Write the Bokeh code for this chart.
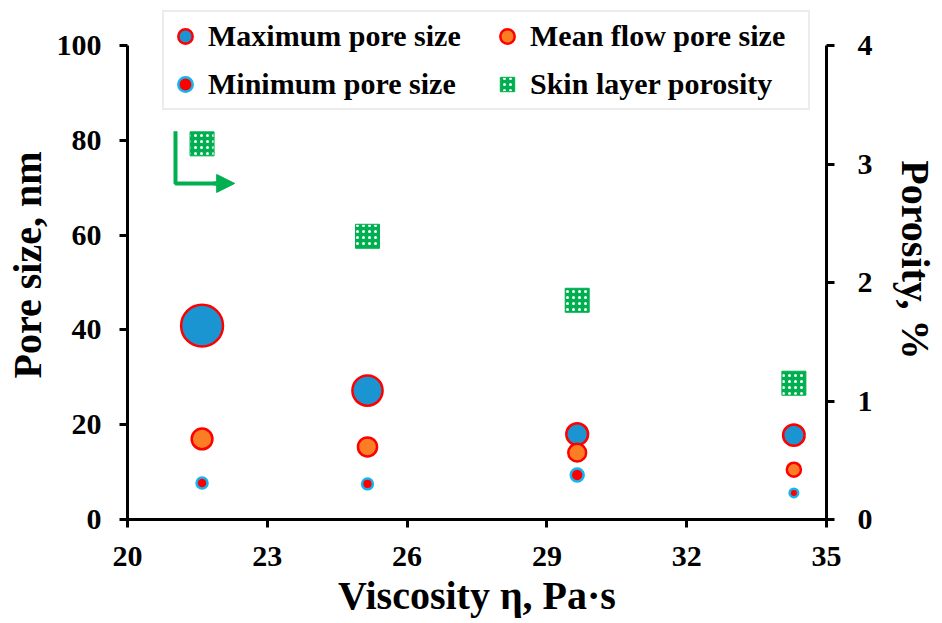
import numpy as np
from bokeh.plotting import figure
from bokeh.models import (ColumnDataSource, Range1d, LinearAxis, FixedTicker,
                          Legend, LegendItem, Arrow, NormalHead)
from bokeh.embed import file_html
from bokeh.resources import INLINE

# ---- data ----
viscosity = [21.6, 25.15, 29.65, 34.3]
max_pore = [40.9, 27.2, 18.0, 17.8]
mean_pore = [17.0, 15.3, 14.1, 10.5]
min_pore = [7.7, 7.5, 9.4, 5.6]
porosity = [3.17, 2.39, 1.85, 1.15]
x_ticks = [20, 23, 26, 29, 32, 35]
y_ticks = [0, 20, 40, 60, 80, 100]
y2_ticks = [0, 1, 2, 3, 4]

FONT = "Liberation Serif"

def bubble(v):
    return [2.15 * (a ** 0.8) for a in v]

FRAME_H = 509
Y_TOP = 100 * FRAME_H / 474.0

p = figure(frame_width=699, frame_height=FRAME_H, output_backend="svg",
           toolbar_location=None, x_range=Range1d(20, 35), y_range=Range1d(0, Y_TOP),
           min_border_left=127, min_border_right=116, min_border_top=10,
           min_border_bottom=104)
p.outline_line_color = None
p.xgrid.visible = False
p.ygrid.visible = False
p.background_fill_color = "white"
p.border_fill_color = "white"

p.extra_y_ranges = {"por": Range1d(0, Y_TOP / 25.0)}
ax2 = LinearAxis(y_range_name="por")
p.add_layout(ax2, "right")

p.xaxis.ticker = FixedTicker(ticks=x_ticks)
p.yaxis[0].ticker = FixedTicker(ticks=y_ticks)
ax2.ticker = FixedTicker(ticks=y2_ticks)
p.yaxis[0].bounds = (0, 100)
ax2.bounds = (0, 4)

p.xaxis.axis_label = "Viscosity η, Pa·s"
p.yaxis[0].axis_label = "Pore size, nm"
ax2.axis_label = "Porosity,  %"

for ax in [p.xaxis[0], p.yaxis[0], ax2]:
    ax.axis_line_width = 3
    ax.axis_line_color = "black"
    ax.major_tick_line_width = 3
    ax.major_tick_line_color = "black"
    ax.major_tick_out = 8
    ax.major_tick_in = 0
    ax.minor_tick_line_color = None
    ax.major_label_text_font = FONT
    ax.major_label_text_font_style = "bold"
    ax.major_label_text_font_size = "30px"
    ax.major_label_text_color = "black"
    ax.axis_label_text_font = FONT
    ax.axis_label_text_font_style = "bold"
    ax.axis_label_text_font_size = "40px"
    ax.axis_label_text_color = "black"
p.yaxis[0].major_label_standoff = 18
ax2.major_label_standoff = 23
p.xaxis.major_label_standoff = 19
p.yaxis[0].axis_label_standoff = 4
ax2.axis_label_standoff = 17
p.xaxis.axis_label_standoff = 4

src = ColumnDataSource(dict(x=viscosity, mx=max_pore, mn=mean_pore, mi=min_pore,
                            por=porosity, smx=bubble(max_pore), smn=bubble(mean_pore),
                            smi=bubble(min_pore)))

r_sq = p.scatter("x", "por", source=src, y_range_name="por", marker="square", size=24,
                 fill_color="#00b050", line_color="#00b050", line_width=1,
                 hatch_pattern="dot", hatch_color="white", hatch_scale=6, hatch_weight=1.5)
r_max = p.scatter("x", "mx", source=src, size="smx", fill_color="#1b94d2",
                  line_color="#ff0000", line_width=2.5)
r_mean = p.scatter("x", "mn", source=src, size="smn", fill_color="#fb7d24",
                   line_color="#ff0000", line_width=2.5)
r_min = p.scatter("x", "mi", source=src, size="smi", fill_color="#ff0000",
                  line_color="#14b4ee", line_width=2.5)

# green L-arrow pointing to the right axis
p.line([21.03, 21.03, 21.95], [81.9, 70.9, 70.9], line_color="#00b050", line_width=4)
p.add_layout(Arrow(end=NormalHead(size=18, fill_color="#00b050", line_color="#00b050"),
                   x_start=21.85, y_start=70.9, x_end=22.3, y_end=70.9,
                   line_color="#00b050", line_width=4))

legend = Legend(items=[
    LegendItem(label="Maximum pore size", renderers=[r_max]),
    LegendItem(label="Mean flow pore size", renderers=[r_mean]),
    LegendItem(label="Minimum pore size", renderers=[r_min]),
    LegendItem(label="Skin layer porosity", renderers=[r_sq]),
], location=(35, 409), orientation="horizontal", ncols=2)
legend.label_text_font = FONT
legend.label_text_font_style = "bold"
legend.label_text_font_size = "30px"
legend.label_text_color = "black"
legend.border_line_color = "#d9d9d9"
legend.border_line_width = 2
legend.glyph_width = 36
legend.glyph_height = 42
legend.label_standoff = 5
legend.label_width = 275
legend.spacing = 6
legend.padding = 3
legend.margin = 0
legend.background_fill_alpha = 1
p.add_layout(legend, "center")

open("out.html", "w").write(file_html(p, INLINE))
